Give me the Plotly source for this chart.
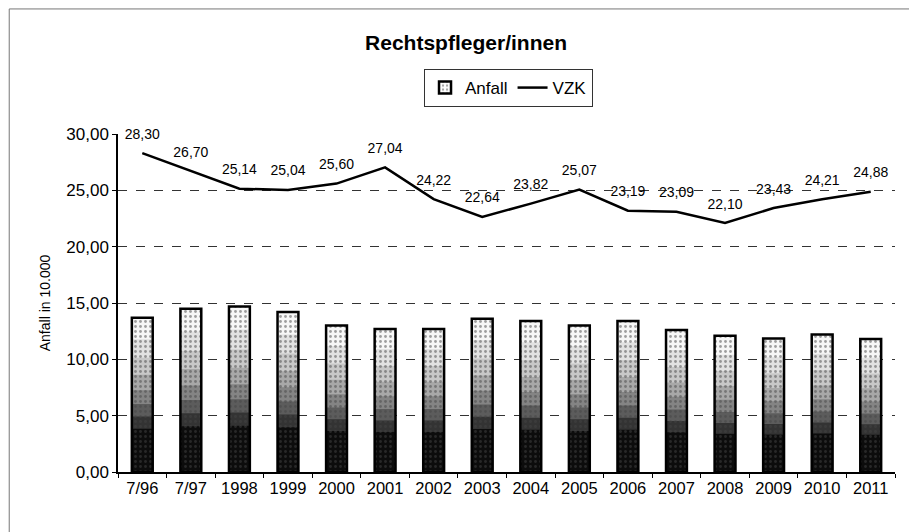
import plotly.graph_objects as go

# data
years = ["7/96", "7/97", "1998", "1999", "2000", "2001", "2002", "2003",
         "2004", "2005", "2006", "2007", "2008", "2009", "2010", "2011"]
anfall = [13.7, 14.5, 14.7, 14.2, 13.0, 12.7, 12.7, 13.6,
          13.4, 13.0, 13.4, 12.6, 12.1, 11.85, 12.2, 11.8]
vzk = [28.30, 26.70, 25.14, 25.04, 25.60, 27.04, 24.22, 22.64,
       23.82, 25.07, 23.19, 23.09, 22.10, 23.43, 24.21, 24.88]

FONT = "Liberation Sans, Arial, sans-serif"
BAR_W = 0.43

fig = go.Figure()

# shaded bars: light at the top, black at the bottom (layered overlay)
shades = [(1.0, "#f7f7f7"), (0.86, "#e2e2e2"), (0.74, "#c8c8c8"),
          (0.63, "#a8a8a8"), (0.53, "#848484"), (0.44, "#5c5c5c"),
          (0.36, "#333333"), (0.28, "#0c0c0c")]
for frac, col in shades:
    fig.add_trace(go.Bar(
        x=years, y=[v * frac for v in anfall],
        showlegend=False, width=BAR_W, hoverinfo="skip",
        marker=dict(color=col, line=dict(width=0)),
    ))

# speckle + outline on top (also the legend entry)
fig.add_trace(go.Bar(
    x=years, y=anfall, name="Anfall", width=BAR_W,
    marker=dict(color="rgba(0,0,0,0)", line=dict(color="black", width=2.5),
                pattern=dict(shape=".", fgcolor="#444", bgcolor="rgba(0,0,0,0)",
                             size=5, solidity=0.25)),
))

# invisible markers push the value labels a bit higher above the line
fig.add_trace(go.Scatter(
    x=years, y=vzk, name="VZK", mode="lines+markers+text",
    line=dict(color="black", width=2.5),
    marker=dict(size=16, color="rgba(0,0,0,0)"),
    text=[f"{v:.2f}".replace(".", ",") for v in vzk],
    textposition="top center",
    textfont=dict(family=FONT, size=14, color="black"),
    cliponaxis=False,
))

fig.update_layout(
    width=917, height=532,
    barmode="overlay",
    separators=",.",
    paper_bgcolor="white",
    plot_bgcolor="white",
    font=dict(family=FONT, color="black"),
    margin=dict(l=110, r=30, t=126, b=68),
    title=dict(text="<b>Rechtspfleger/innen</b>", x=0.4995, y=0.934,
               xanchor="center", yanchor="middle",
               font=dict(family=FONT, size=21, color="black")),
    legend=dict(orientation="h", x=0.5026, y=1.136, xanchor="center", yanchor="middle",
                bordercolor="#333", borderwidth=1, tracegroupgap=0,
                font=dict(family=FONT, size=17), traceorder="normal"),
)

fig.update_xaxes(
    range=[-0.5, len(years) - 0.5],
    showline=True, linecolor="black", linewidth=1.5,
    ticks="outside", ticklen=4, tickcolor="black", tickson="boundaries",
    tickangle=0, tickfont=dict(family=FONT, size=16.5), showgrid=False,
)
fig.update_yaxes(
    range=[0, 30], dtick=5, tickformat=".2f",
    showline=True, linecolor="black", linewidth=1.5,
    ticks="outside", ticklen=4, tickcolor="black",
    tickfont=dict(family=FONT, size=17),
    showgrid=True, gridcolor="#333", gridwidth=1, griddash="dash",
    zeroline=False,
    title=dict(text="Anfall in 10.000", font=dict(family=FONT, size=14), standoff=12),
)

# faint outer frame of the scanned chart
fig.add_shape(type="rect", xref="paper", yref="paper",
              x0=-0.140, x1=1.0257, y0=-0.3, y1=1.37,
              line=dict(color="#777", width=1))

fig.write_html("out.html")
